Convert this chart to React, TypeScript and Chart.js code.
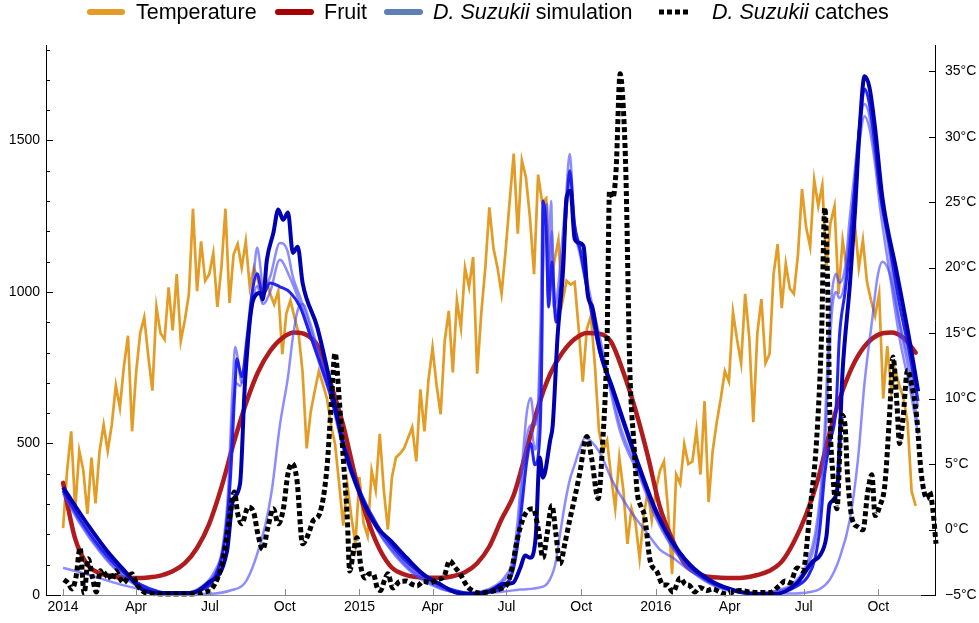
import React, { useEffect, useRef } from "react";
import { Chart, registerables } from "chart.js";

Chart.register(...registerables);

const FONT = '"Liberation Sans", Arial, Helvetica, sans-serif';

// Days are counted from 1 January 2014.
const X_MIN_DAY = -21;
const X_MAX_DAY = 1075;

// Daily mean temperature (°C), one reading every 5 days from 1 Jan 2014.
const TEMP_STEP_DAYS = 5;
const temperature = [
  0.1, 4.5, 7.5, 1.6, 6, 4.5, 1.2, 5.5, 2, 6,
  8, 6, 8, 11, 9.3, 12.5, 14.8, 7.5, 12, 15,
  16.2, 13.2, 10.6, 17, 15, 14.5, 18.5, 15.2, 19.5, 14.4,
  16, 18, 24.5, 18.2, 22, 19, 19.5, 21.1, 17, 20,
  24.5, 17.3, 21, 21.8, 20, 22, 18.5, 20, 19, 17.7,
  19.2, 18, 17.2, 18.2, 13.4, 16.5, 17.5, 16.2, 15, 12,
  6.2, 9, 10.6, 12.1, 11.1, 10, 8, 6.5, 3.5, 0.3,
  3.5, 1, -1.1, 4, 0.5, -0.5, 4.5, 3, 7.3, 3,
  0, 4, 5.5, 5.8, 6.2, 7, 7.8, 5.2, 10.7, 7.5,
  11.4, 13.9, 11, 8.8, 14.4, 16.7, 12, 17.5, 15.4, 20,
  18.5, 20.8, 11.9, 16.5, 20, 24.6, 21.5, 20, 18, 21.3,
  25.1, 28.7, 22.6, 28.2, 26.9, 23.8, 19.5, 27.1, 25, 25.3,
  18.2, 20.5, 22.1, 17.4, 19, 18.7, 18.9, 15.3, 11.3, 15.3,
  16.3, 12.5, 7.5, 6, 6.8, 4, 1.6, 5.5, 3, -1.1,
  1.6, 0.5, -2.2, 1, 2.9, 0.7, 3, 4.5, 5.2, 1.5,
  -3.4, 4.2, 3.5, 6.5, 5, 5.2, 7.6, 4.2, 9.8, 2.1,
  6, 8.2, 10, 12.1, 11.3, 16.6, 14.5, 12.7, 18, 14.7,
  8.2, 15, 17.6, 12.7, 13.4, 19.5, 21.8, 16.9, 20.3, 18.4,
  18, 21, 26, 23.1, 21.6, 26.7, 24.7, 26.3, 20, 23.4,
  24.7, 18, 22.1, 20, 21, 23.4, 20, 22.1, 18.9, 17.5,
  16.3, 18, 10, 14, 10.5, 12.1, 11, 10, 8.2, 2.9, 1.8,
];

// Fruit availability, one value every 15 days.
const FRUIT_STEP_DAYS = 15;
const fruit = [
  370, 185, 100, 72, 62, 57, 56, 58, 64, 78,
  105, 155, 235, 355, 500, 630, 735, 805, 848, 866,
  858, 815, 695, 560, 390, 250, 150, 90, 68, 59,
  57, 57, 62, 75, 105, 160, 250, 330, 470, 620,
  730, 800, 845, 865, 862, 835, 735, 610, 460, 290,
  185, 105, 72, 60, 57, 56, 58, 66, 80, 110,
  175, 265, 385, 545, 675, 770, 830, 860, 866, 848,
  800,
];

// D. suzukii simulation runs: [day, individuals].
const simMain: [number, number][] = [
  [0, 355], [33, 222], [54, 146], [79, 70], [95, 23], [116, 7], [156, 7], [177, 36],
  [202, 146], [209, 311], [218, 368], [224, 698], [234, 973], [243, 997], [246, 975],
  [251, 1106], [259, 1195], [265, 1272], [271, 1238], [277, 1262], [283, 1129],
  [289, 1149], [295, 1030], [313, 884], [329, 700], [345, 500], [366, 330], [387, 222],
  [403, 180], [423, 123], [443, 70], [464, 36], [485, 7], [505, 3], [526, 13], [542, 36],
  [554, 40], [563, 89], [569, 130], [575, 123], [582, 190], [587, 454], [591, 387],
  [600, 513], [603, 560], [609, 854], [616, 1083], [620, 1311], [625, 1334], [630, 1175],
  [636, 1162], [641, 1150], [646, 993], [652, 947], [661, 810], [677, 680], [692, 560],
  [710, 420], [729, 285], [747, 190], [772, 100], [796, 50], [821, 20], [846, 5],
  [876, 3], [904, 40], [923, 110], [932, 130], [940, 192], [944, 300], [953, 340],
  [960, 740], [969, 1026], [975, 1255], [981, 1540], [987, 1712], [993, 1676],
  [1000, 1540], [1009, 1311], [1027, 1060], [1043, 831], [1053, 672],
];

const simBright: [number, number][] = [
  [0, 345], [21, 250], [46, 155], [70, 85], [95, 35], [119, 10], [144, 4], [169, 15],
  [187, 60], [199, 180], [206, 380], [212, 700], [214, 780], [220, 720], [227, 860],
  [233, 1000], [239, 1060], [246, 990], [255, 1030], [267, 1017], [279, 1000],
  [292, 950], [304, 860], [316, 770], [329, 665], [347, 480], [366, 340], [387, 230],
  [403, 170], [427, 100], [452, 50], [476, 20], [501, 6], [526, 10], [544, 30],
  [554, 80], [560, 170], [566, 320], [571, 440], [576, 500], [581, 430], [587, 520],
  [590, 900], [591, 1300], [595, 1200], [598, 950], [602, 1100], [607, 900], [614, 1050],
  [620, 1280], [624, 1400], [630, 1220], [636, 1150], [646, 1000], [661, 800], [677, 670],
  [692, 550], [710, 410], [729, 280], [747, 185], [772, 95], [796, 45], [821, 18],
  [846, 6], [876, 5], [904, 30], [917, 60], [926, 120], [932, 220], [938, 400],
  [944, 500], [952, 620], [956, 850], [963, 1000], [969, 1150], [975, 1350], [981, 1550],
  [987, 1670], [993, 1620], [1000, 1480], [1006, 1330], [1018, 1150], [1030, 960],
  [1043, 790], [1053, 640],
];

const simLightA: [number, number][] = [
  [0, 340], [21, 240], [46, 145], [70, 75], [95, 28], [119, 8], [144, 6], [169, 25],
  [187, 80], [196, 150], [203, 330], [209, 700], [212, 818], [215, 785], [220, 700],
  [227, 808], [234, 1030], [239, 1146], [243, 1083], [246, 1007], [255, 1050],
  [267, 1162], [276, 1139], [283, 1050], [292, 983], [300, 917], [316, 780], [329, 670],
  [347, 470], [366, 330], [387, 220], [403, 160], [427, 90], [452, 45], [476, 15],
  [501, 8], [513, 10], [532, 30], [544, 60], [554, 120], [560, 250], [566, 450],
  [571, 600], [576, 650], [581, 560], [585, 640], [588, 900], [591, 1290], [595, 1240],
  [597, 980], [601, 1300], [604, 950], [609, 1000], [614, 1150], [619, 1300], [624, 1455],
  [629, 1250], [634, 1160], [640, 1120], [646, 1030], [655, 920], [667, 780], [686, 560],
  [710, 400], [729, 270], [747, 175], [772, 90], [796, 40], [821, 15], [846, 5],
  [870, 10], [883, 18], [895, 30], [907, 60], [917, 110], [926, 200], [932, 320],
  [938, 550], [942, 800], [947, 1000], [952, 1060], [956, 1030], [963, 1080], [969, 1250],
  [975, 1400], [981, 1550], [987, 1620], [993, 1580], [1000, 1450], [1006, 1330],
  [1018, 1120], [1030, 900], [1043, 720], [1053, 560],
];

const simLightB: [number, number][] = [
  [0, 335], [21, 235], [46, 140], [70, 70], [95, 25], [119, 7], [144, 5], [169, 20],
  [187, 70], [196, 130], [203, 280], [209, 620], [213, 700], [218, 690], [224, 760],
  [230, 900], [239, 1020], [246, 960], [255, 1000], [267, 1106], [279, 1050], [292, 960],
  [304, 860], [316, 760], [329, 655], [347, 460], [366, 325], [387, 215], [403, 155],
  [427, 85], [452, 40], [476, 12], [501, 6], [513, 8], [532, 25], [544, 50], [554, 100],
  [560, 200], [566, 380], [571, 520], [576, 560], [581, 480], [585, 550], [588, 800],
  [593, 1200], [596, 1290], [598, 1000], [602, 1200], [606, 920], [612, 1020],
  [618, 1200], [624, 1380], [630, 1200], [636, 1130], [646, 1000], [655, 900], [667, 760],
  [686, 540], [710, 390], [729, 260], [747, 170], [772, 85], [796, 38], [821, 14],
  [846, 5], [870, 8], [883, 15], [895, 25], [907, 50], [917, 95], [926, 170], [932, 280],
  [938, 480], [942, 700], [947, 940], [952, 1000], [956, 980], [963, 1040], [969, 1200],
  [975, 1350], [981, 1500], [987, 1580], [993, 1540], [1000, 1420], [1006, 1280],
  [1018, 1060], [1030, 850], [1043, 680], [1053, 530],
];

const simLate: [number, number][] = [
  [0, 90], [21, 75], [46, 55], [70, 35], [95, 20], [119, 10], [144, 4], [169, 3],
  [187, 5], [206, 15], [224, 40], [236, 110], [249, 230], [257, 344], [267, 560],
  [277, 720], [283, 850], [289, 940], [295, 960], [304, 900], [316, 790], [329, 680],
  [347, 480], [366, 330], [387, 215], [403, 150], [427, 80], [452, 35], [476, 12],
  [501, 5], [538, 10], [563, 18], [587, 25], [597, 40], [606, 100], [612, 200],
  [618, 300], [624, 380], [630, 430], [636, 480], [643, 520], [649, 510], [661, 470],
  [677, 374], [698, 280], [719, 205], [735, 150], [751, 123], [772, 80], [796, 45],
  [821, 20], [858, 5], [895, 5], [920, 10], [932, 20], [944, 50], [956, 120], [969, 250],
  [979, 450], [987, 700], [996, 900], [1003, 1050], [1009, 1100], [1018, 1060],
  [1030, 900], [1043, 760], [1053, 620],
];

// Trap catches of D. suzukii: [day, individuals].
const catches: [number, number][] = [
  [1, 50], [6, 40], [11, 20], [16, 60], [21, 156], [26, 5], [31, 120], [36, 60], [41, 10],
  [46, 80], [50, 60], [55, 75], [60, 50], [65, 80], [70, 55], [75, 40], [80, 60], [85, 70],
  [90, 40], [95, 20], [101, 8], [110, 5], [126, 3], [144, 3], [162, 4], [175, 10],
  [183, 20], [191, 60], [196, 103], [203, 212], [211, 340], [215, 270], [220, 235],
  [228, 290], [235, 270], [240, 200], [246, 150], [252, 220], [259, 285], [265, 235],
  [271, 280], [277, 400], [282, 434], [288, 380], [295, 169], [302, 200], [308, 245],
  [316, 268], [325, 420], [330, 620], [335, 798], [340, 650], [345, 454], [350, 255],
  [353, 79], [358, 150], [362, 189], [367, 90], [372, 56], [377, 70], [382, 70], [387, 23],
  [391, 15], [396, 50], [400, 70], [406, 23], [415, 45], [423, 46], [430, 35], [436, 30],
  [444, 45], [452, 40], [460, 50], [469, 60], [476, 113], [483, 90], [489, 70], [495, 40],
  [501, 20], [513, 7], [529, 13], [538, 20], [547, 36], [553, 90], [559, 179], [566, 248],
  [572, 278], [579, 285], [585, 220], [591, 123], [596, 200], [602, 295], [607, 200],
  [612, 103], [618, 170], [624, 248], [630, 320], [636, 397], [645, 523], [651, 450],
  [659, 318], [664, 480], [670, 854], [673, 1334], [677, 1311], [681, 1400], [686, 1720],
  [689, 1650], [693, 1400], [698, 742], [703, 500], [707, 341], [712, 290], [716, 262],
  [723, 113], [731, 79], [739, 33], [744, 33], [751, 10], [760, 56], [766, 36], [772, 30],
  [778, 10], [784, 25], [793, 15], [800, 20], [809, 10], [817, 3], [825, 10], [833, 15],
  [846, 10], [858, 8], [870, 8], [883, 33], [889, 46], [895, 40], [904, 89], [911, 79],
  [920, 285], [928, 513], [934, 854], [938, 1278], [942, 970], [944, 626], [948, 397],
  [953, 285], [959, 593], [963, 560], [966, 397], [972, 248], [979, 225], [985, 215],
  [991, 341], [996, 397], [1000, 262], [1006, 295], [1012, 364], [1018, 603], [1022, 785],
  [1027, 626], [1030, 500], [1034, 570], [1040, 742], [1045, 695], [1051, 593],
  [1057, 397], [1064, 318], [1067, 341], [1071, 285], [1075, 169],
];

// Axis ticks
const xTickDays = [0, 90, 181, 273, 365, 455, 546, 638, 730, 821, 912, 1004];
const xTickLabels = ["2014", "Apr", "Jul", "Oct", "2015", "Apr", "Jul", "Oct", "2016", "Apr", "Jul", "Oct"];
const countTicks = [0, 500, 1000, 1500];
const countMinorStep = 100;
const tempTicks = [-5, 0, 5, 10, 15, 20, 25, 30, 35];

// Extent of the grey date axis line
const DATE_AXIS_FROM = -1;
const DATE_AXIS_TO = 1056;

const COLORS = {
  temperature: "#E39C25",
  fruit: "#B01B1D",
  simMain: "#0000B0",
  simBright: "rgba(25, 25, 240, 0.95)",
  simLight: "rgba(70, 70, 255, 0.62)",
  catches: "#000000",
  legendSim: "#5E81B5",
  legendFruit: "#A80000",
};

const LEGEND_FONT_SIZE = 21.5;

const legendItems = [
  { swatch: "line", color: COLORS.temperature, x0: 90, x1: 122, textX: 136, parts: [{ t: "Temperature", it: false }] },
  { swatch: "line", color: COLORS.legendFruit, x0: 278, x1: 311, textX: 324, parts: [{ t: "Fruit", it: false }] },
  {
    swatch: "line", color: COLORS.legendSim, x0: 387, x1: 420, textX: 433,
    parts: [{ t: "D. Suzukii", it: true }, { t: " simulation", it: false }],
  },
  {
    swatch: "dots", color: "#000", x0: 659, x1: 688, textX: 712,
    parts: [{ t: "D. Suzukii", it: true }, { t: " catches", it: false }],
  },
];

const pts = (pairs: [number, number][]) => pairs.map(([x, y]) => ({ x, y }));

const legendPlugin = {
  id: "topLegend",
  afterDraw(chart: any) {
    const ctx = chart.ctx as CanvasRenderingContext2D;
    const y = 12;
    ctx.save();
    for (const item of legendItems) {
      ctx.beginPath();
      ctx.strokeStyle = item.color;
      if (item.swatch === "line") {
        ctx.lineWidth = 6;
        ctx.lineCap = "round";
        ctx.setLineDash([]);
      } else {
        ctx.lineWidth = 5;
        ctx.lineCap = "butt";
        ctx.setLineDash([5, 3]);
      }
      ctx.moveTo(item.x0, y);
      ctx.lineTo(item.x1, y);
      ctx.stroke();
      ctx.setLineDash([]);
      let x = item.textX;
      ctx.fillStyle = "#000";
      ctx.textBaseline = "middle";
      ctx.textAlign = "left";
      for (const p of item.parts) {
        ctx.font = `${p.it ? "italic " : ""}${LEGEND_FONT_SIZE}px ${FONT}`;
        ctx.fillText(p.t, x, y + 1);
        x += ctx.measureText(p.t).width;
      }
    }
    ctx.restore();
  },
};

const axesPlugin = {
  id: "frameAxes",
  afterDatasetsDraw(chart: any) {
    const ctx = chart.ctx as CanvasRenderingContext2D;
    const { left, right, top, bottom } = chart.chartArea;
    const xs = chart.scales.x;
    const ys = chart.scales.y;
    const ts = chart.scales.yT;
    ctx.save();
    ctx.lineWidth = 1;
    ctx.lineCap = "butt";

    // Date axis (grey)
    ctx.strokeStyle = "#8a8a8a";
    const xa = Math.round(xs.getPixelForValue(DATE_AXIS_FROM));
    const xb = Math.round(xs.getPixelForValue(DATE_AXIS_TO));
    ctx.beginPath();
    ctx.moveTo(xa, bottom + 0.5);
    ctx.lineTo(xb, bottom + 0.5);
    for (const d of xTickDays) {
      const px = Math.round(xs.getPixelForValue(d)) + 0.5;
      ctx.moveTo(px, bottom);
      ctx.lineTo(px, bottom - 6);
    }
    ctx.stroke();

    // Count axis (left)
    ctx.strokeStyle = "#000";
    ctx.beginPath();
    ctx.moveTo(left + 0.5, top);
    ctx.lineTo(left + 0.5, bottom + 1);
    for (let v = 0; v <= ys.max; v += countMinorStep) {
      const py = Math.round(ys.getPixelForValue(v)) + 0.5;
      const len = v === 0 ? 15 : v % 500 === 0 ? 7 : 4;
      ctx.moveTo(left, py);
      ctx.lineTo(left + len, py);
    }
    ctx.stroke();

    // Temperature axis (right)
    ctx.beginPath();
    ctx.moveTo(right - 0.5, top);
    ctx.lineTo(right - 0.5, bottom + 1);
    for (const t of tempTicks) {
      const py = Math.round(ts.getPixelForValue(t)) + 0.5;
      const len = t === tempTicks[0] ? 15 : 7;
      ctx.moveTo(right, py);
      ctx.lineTo(right - len, py);
    }
    ctx.stroke();
    ctx.restore();
  },
};

const tickFont = { family: FONT, size: 14 };

export default function App() {
  const canvasRef = useRef<HTMLCanvasElement>(null);

  useEffect(() => {
    const canvas = canvasRef.current;
    if (!canvas) return;

    const line = (label: string, data: any[], color: string, width: number, extra: any = {}) => ({
      label,
      data,
      borderColor: color,
      backgroundColor: color,
      borderWidth: width,
      pointRadius: 0,
      pointHoverRadius: 0,
      fill: false,
      clip: false,
      yAxisID: "y",
      ...extra,
    });

    const chart = new Chart(canvas, {
      type: "line",
      data: {
        datasets: [
          line("D. Suzukii catches", pts(catches), COLORS.catches, 5, {
            borderDash: [5, 3],
            borderCapStyle: "butt",
            cubicInterpolationMode: "monotone",
          }),
          line("D. Suzukii simulation", pts(simMain), COLORS.simMain, 4, { cubicInterpolationMode: "monotone" }),
          line("simulation 2", pts(simBright), COLORS.simBright, 3, { cubicInterpolationMode: "monotone" }),
          line("simulation 3", pts(simLightA), COLORS.simLight, 2.5, { cubicInterpolationMode: "monotone" }),
          line("simulation 4", pts(simLightB), COLORS.simLight, 2.5, { cubicInterpolationMode: "monotone" }),
          line("simulation 5", pts(simLate), COLORS.simLight, 2.5, { cubicInterpolationMode: "monotone" }),
          line(
            "Fruit",
            fruit.map((v, i) => ({ x: i * FRUIT_STEP_DAYS, y: v })),
            COLORS.fruit,
            4.5,
            { cubicInterpolationMode: "monotone", borderCapStyle: "round" }
          ),
          line(
            "Temperature",
            temperature.map((t, i) => ({ x: i * TEMP_STEP_DAYS, y: t })),
            COLORS.temperature,
            2.7,
            { yAxisID: "yT", borderJoinStyle: "miter" }
          ),
        ],
      },
      options: {
        responsive: false,
        animation: false,
        devicePixelRatio: 1,
        events: [],
        layout: { padding: { top: 45, left: 0, right: 0, bottom: 0 } },
        plugins: {
          legend: { display: false },
          tooltip: { enabled: false },
        },
        scales: {
          x: {
            type: "linear",
            min: X_MIN_DAY,
            max: X_MAX_DAY,
            afterFit: (s: any) => {
              s.height = 28;
            },
            afterBuildTicks: (s: any) => {
              s.ticks = xTickDays.map((value) => ({ value }));
            },
            ticks: {
              autoSkip: false,
              maxRotation: 0,
              minRotation: 0,
              padding: 4,
              color: "#000",
              font: tickFont,
              callback: (_v: any, i: number) => xTickLabels[i],
            },
            grid: { display: false, drawTicks: false },
            border: { display: false },
          },
          y: {
            type: "linear",
            position: "left",
            min: 0,
            max: 1815,
            afterFit: (s: any) => {
              s.width = 46;
            },
            afterBuildTicks: (s: any) => {
              s.ticks = countTicks.map((value) => ({ value }));
            },
            ticks: {
              padding: 6,
              color: "#000",
              font: tickFont,
              callback: (v: any) => String(v),
            },
            grid: { display: false, drawTicks: false },
            border: { display: false },
          },
          yT: {
            type: "linear",
            position: "right",
            min: -5,
            max: 37,
            afterFit: (s: any) => {
              s.width = 43;
            },
            afterBuildTicks: (s: any) => {
              s.ticks = tempTicks.map((value) => ({ value }));
            },
            ticks: {
              padding: 9,
              color: "#000",
              font: tickFont,
              callback: (v: any) => (v < 0 ? "\u2212" + Math.abs(v) : String(v)) + "°C",
            },
            grid: { display: false, drawTicks: false },
            border: { display: false },
          },
        },
      } as any,
      plugins: [axesPlugin, legendPlugin],
    });

    return () => chart.destroy();
  }, []);

  return (
    <div style={{ position: "absolute", left: 0, top: 0, width: 979, height: 623, background: "#fff" }}>
      <canvas ref={canvasRef} width={979} height={623} style={{ display: "block" }} />
    </div>
  );
}
